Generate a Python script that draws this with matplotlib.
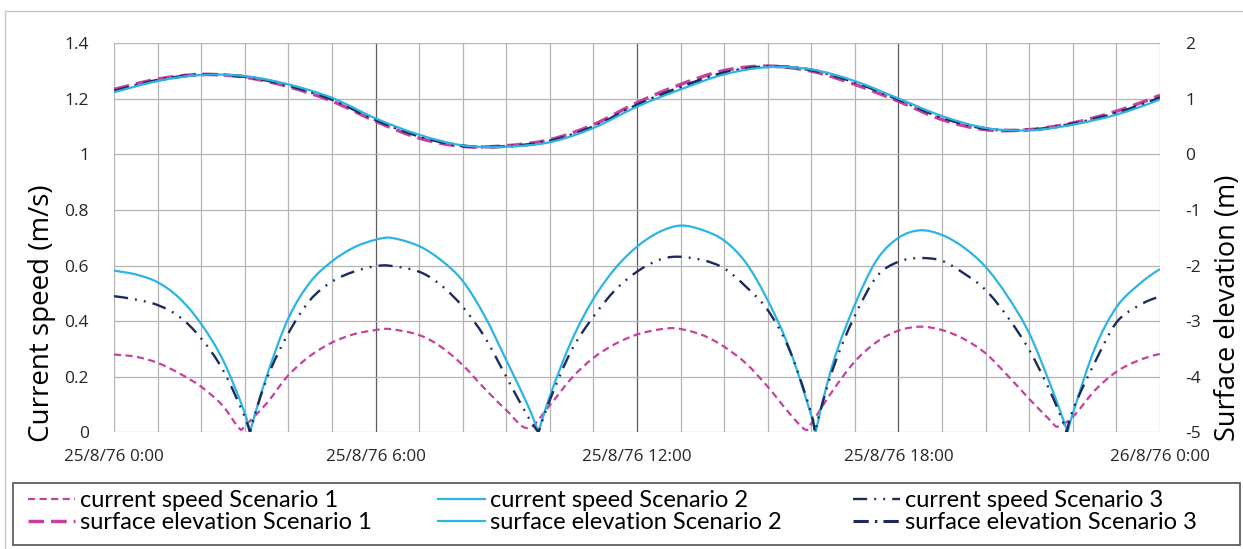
import matplotlib
matplotlib.use("Agg")
import matplotlib.pyplot as plt
from matplotlib.lines import Line2D
from matplotlib.patches import Rectangle, PathPatch
from matplotlib.path import Path

# ---------------- data (hours after 25/8/76 0:00) ----------------
cs1_t = [0, 0.5, 1, 1.5, 2, 2.5, 2.9, 3, 3.5, 4, 4.5, 5, 5.5, 6, 6.3, 7, 7.5, 8, 8.5, 9, 9.5, 10,
         10.5, 11, 11.5, 12, 12.5, 12.9, 13.5, 14, 14.5, 15, 15.5, 15.88, 16, 16.5, 17, 17.5, 18,
         18.5, 19, 19.5, 20, 20.5, 21, 21.5, 21.64, 22, 22.5, 23, 23.5, 24]
cs1_v = [0.28, 0.272, 0.25, 0.212, 0.164, 0.095, 0.01, 0.022, 0.104, 0.205, 0.275, 0.323, 0.353, 0.368,
         0.372, 0.35, 0.308, 0.242, 0.158, 0.08, 0.015, 0.098, 0.195, 0.268, 0.318, 0.352, 0.37, 0.374,
         0.35, 0.308, 0.248, 0.164, 0.068, 0.008, 0.032, 0.152, 0.255, 0.325, 0.366, 0.38, 0.368,
         0.336, 0.284, 0.205, 0.12, 0.04, 0.02, 0.056, 0.15, 0.218, 0.258, 0.282]

cs2_t = [0, 0.5, 1, 1.5, 2, 2.5, 3, 3.12, 3.5, 4, 4.5, 5, 5.5, 6, 6.35, 7, 7.5, 8, 8.5, 9, 9.5, 9.74,
         10, 10.5, 11, 11.5, 12, 12.5, 13, 13.5, 14, 14.5, 15, 15.5, 16, 16.1, 16.5, 17, 17.5, 18,
         18.5, 19, 19.5, 20, 20.5, 21, 21.5, 21.88, 22, 22.5, 23, 23.5, 24]
cs2_v = [0.582, 0.568, 0.54, 0.483, 0.39, 0.26, 0.07, 0.0, 0.20, 0.41, 0.54, 0.615, 0.665, 0.693, 0.70,
         0.67, 0.62, 0.545, 0.42, 0.26, 0.095, 0.0, 0.13, 0.33, 0.48, 0.59, 0.668, 0.72, 0.744,
         0.728, 0.69, 0.61, 0.475, 0.30, 0.06, 0.0, 0.25, 0.46, 0.62, 0.70, 0.727, 0.71, 0.665, 0.595,
         0.49, 0.356, 0.165, 0.0, 0.068, 0.30, 0.45, 0.53, 0.587]

cs3_t = [0, 0.5, 1, 1.5, 2, 2.5, 3, 3.12, 3.5, 4, 4.5, 5, 5.5, 6, 6.3, 7, 7.5, 8, 8.5, 9, 9.5, 9.74,
         10, 10.5, 11, 11.5, 12, 12.5, 12.9, 13.5, 14, 14.5, 15, 15.5, 16, 16.08, 16.5, 17, 17.5, 18,
         18.5, 19, 19.5, 20, 20.5, 21, 21.5, 21.86, 22, 22.5, 23, 23.5, 24]
cs3_v = [0.49, 0.478, 0.458, 0.416, 0.338, 0.224, 0.056, 0.0, 0.19, 0.356, 0.476, 0.542, 0.578, 0.598,
         0.60, 0.578, 0.53, 0.452, 0.344, 0.20, 0.056, 0.0, 0.116, 0.296, 0.416, 0.512, 0.578, 0.62,
         0.632, 0.62, 0.59, 0.524, 0.44, 0.296, 0.068, 0.0, 0.23, 0.42, 0.56, 0.614, 0.627, 0.617,
         0.572, 0.512, 0.416, 0.296, 0.14, 0.0, 0.08, 0.25, 0.395, 0.455, 0.488]

se_t = list(range(0, 25))
se1_v = [1.17, 1.355, 1.44, 1.39, 1.22, 0.96, 0.60, 0.295, 0.145, 0.157, 0.265, 0.536, 0.93, 1.26,
         1.51, 1.59, 1.50, 1.26, 0.958, 0.627, 0.446, 0.446, 0.566, 0.777, 1.066]
se2_v = [1.12, 1.32, 1.43, 1.41, 1.26, 1.02, 0.65, 0.355, 0.163, 0.14, 0.22, 0.476, 0.86, 1.17,
         1.44, 1.57, 1.53, 1.32, 1.006, 0.69, 0.476, 0.434, 0.536, 0.717, 0.99]
se3_v = [1.14, 1.335, 1.435, 1.40, 1.245, 0.99, 0.625, 0.33, 0.155, 0.145, 0.24, 0.50, 0.89, 1.21,
         1.47, 1.58, 1.52, 1.30, 0.99, 0.665, 0.465, 0.44, 0.55, 0.745, 1.02]

x_ticks = [0, 6, 12, 18, 24]
x_ticklabels = ["25/8/76 0:00", "25/8/76 6:00", "25/8/76 12:00", "25/8/76 18:00", "26/8/76 0:00"]

labels = ["current speed Scenario 1", "current speed Scenario 2", "current speed Scenario 3",
          "surface elevation Scenario 1", "surface elevation Scenario 2", "surface elevation Scenario 3"]

MAG = "#C6419E"
CYAN = "#2BB4E6"
NAVY = "#1D2B5C"

plt.rcParams["font.family"] = ["Open Sans", "DejaVu Sans"]


def smooth_path(xs, ys):
    """Excel-style smoothed line through the data points (cubic Bezier, cusps kept at zeros)."""
    n = len(xs)
    breaks = {i for i in range(n) if ys[i] == 0.0}

    def slope(i):
        left = i > 0 and i not in breaks
        right = i < n - 1 and i not in breaks
        if left and right:
            return (ys[i + 1] - ys[i - 1]) / (xs[i + 1] - xs[i - 1])
        return None

    verts = [(xs[0], ys[0])]
    codes = [Path.MOVETO]
    for i in range(n - 1):
        h = xs[i + 1] - xs[i]
        s0 = slope(i)
        s1 = slope(i + 1)
        sec = (ys[i + 1] - ys[i]) / h
        if s0 is None:
            s0 = sec if s1 is None else 2 * sec - s1 if i in breaks else sec
        if s1 is None:
            s1 = sec if i in breaks else 2 * sec - s0
        c1 = (xs[i] + h / 3, ys[i] + s0 * h / 3)
        c2 = (xs[i + 1] - h / 3, ys[i + 1] - s1 * h / 3)
        verts += [c1, c2, (xs[i + 1], ys[i + 1])]
        codes += [Path.CURVE4] * 3
    return Path(verts, codes)


def draw(axis, xs, ys, **kw):
    p = PathPatch(smooth_path(xs, ys), fill=False, transform=axis.transData, **kw)
    axis.add_patch(p)
    return Line2D([], [], color=kw["edgecolor"], lw=kw["linewidth"], linestyle=kw["linestyle"])


fig = plt.figure(figsize=(12.43, 5.49), dpi=100)
fig.patches.append(Rectangle((5 / 1243, -0.01), 1.1, 1 - 11 / 549 + 0.01, transform=fig.transFigure,
                             fill=False, edgecolor="#C8C8C8", linewidth=1.0))
fig.patches.append(Rectangle((13 / 1243, 1 - 545 / 549), (1240 - 13) / 1243, 62 / 549,
                             transform=fig.transFigure, fill=False, edgecolor="#505050", linewidth=1.2))

ax = fig.add_axes([114 / 1243, 1 - 432.3 / 549, (1160 - 114) / 1243, (432.3 - 43.3) / 549])
ax2 = ax.twinx()

# grid
for h in range(0, 25):
    col = "#5A5A5A" if h in (6, 12, 18) else "#B4B4B4"
    ax.axvline(h, color=col, lw=0.9, zorder=0)
for yv in [0.2 * i for i in range(8)]:
    ax.axhline(yv, color="#B4B4B4", lw=0.9, zorder=0)

ax.set_xlim(0, 24)
ax.set_ylim(0, 1.4)
ax2.set_ylim(-5, 2)

h1 = draw(ax, cs1_t, cs1_v, edgecolor=MAG, linewidth=1.6, linestyle=(0, (3.2, 2.0)))
h2 = draw(ax, cs2_t, cs2_v, edgecolor=CYAN, linewidth=1.6, linestyle="-")
h3 = draw(ax, cs3_t, cs3_v, edgecolor=NAVY, linewidth=1.7, linestyle=(0, (6, 3, 0.8, 3, 0.8, 3)))

g1 = draw(ax2, se_t, se1_v, edgecolor=MAG, linewidth=2.5, linestyle=(0, (4.5, 2.0)))
g3 = draw(ax2, se_t, se3_v, edgecolor=NAVY, linewidth=2.2, linestyle=(0, (5, 2, 0.8, 2)))
g2 = draw(ax2, se_t, se2_v, edgecolor=CYAN, linewidth=1.6, linestyle="-")

ax.set_xticks(x_ticks)
ax.set_xticklabels(x_ticklabels, fontsize=12.3, color="#262626")
ax.set_yticks([0, 0.2, 0.4, 0.6, 0.8, 1.0, 1.2, 1.4])
ax.set_yticklabels(["0", "0.2", "0.4", "0.6", "0.8", "1", "1.2", "1.4"], fontsize=12.5, color="#262626")
ax2.set_yticks([-5, -4, -3, -2, -1, 0, 1, 2])
ax2.set_yticklabels(["-5", "-4", "-3", "-2", "-1", "0", "1", "2"], fontsize=12.5, color="#262626")

ax.tick_params(axis="x", length=0, pad=12)
ax.tick_params(axis="y", length=0, pad=18)
ax2.tick_params(axis="y", length=0, pad=18)
for a in (ax, ax2):
    for sp in a.spines.values():
        sp.set_visible(False)

ax.set_ylabel("Current speed (m/s)", fontsize=20, color="#000000")
ax2.set_ylabel("Surface elevation (m)", fontsize=19.5, color="#000000")
ax.yaxis.set_label_coords((56 - 114) / 1046, (432.3 - 313) / 389)
ax2.yaxis.set_label_coords((1214 - 114) / 1046, (432.3 - 308) / 389)

col_x = [28, 438, 853]
col_handles = [[h1, g1], [h2, g2], [h3, g3]]
col_labels = [[labels[0], labels[3]], [labels[1], labels[4]], [labels[2], labels[5]]]
for cx, hh, ll in zip(col_x, col_handles, col_labels):
    fig.legend(hh, ll, loc="upper left", bbox_to_anchor=(cx / 1243, 1 - 490 / 549),
               frameon=False, handlelength=2.0, handletextpad=0.2, borderpad=0.0,
               borderaxespad=0.0, labelspacing=0.05,
               prop={"family": ["Lato", "DejaVu Sans"], "size": 17})

fig.savefig("out.png", dpi=100)
